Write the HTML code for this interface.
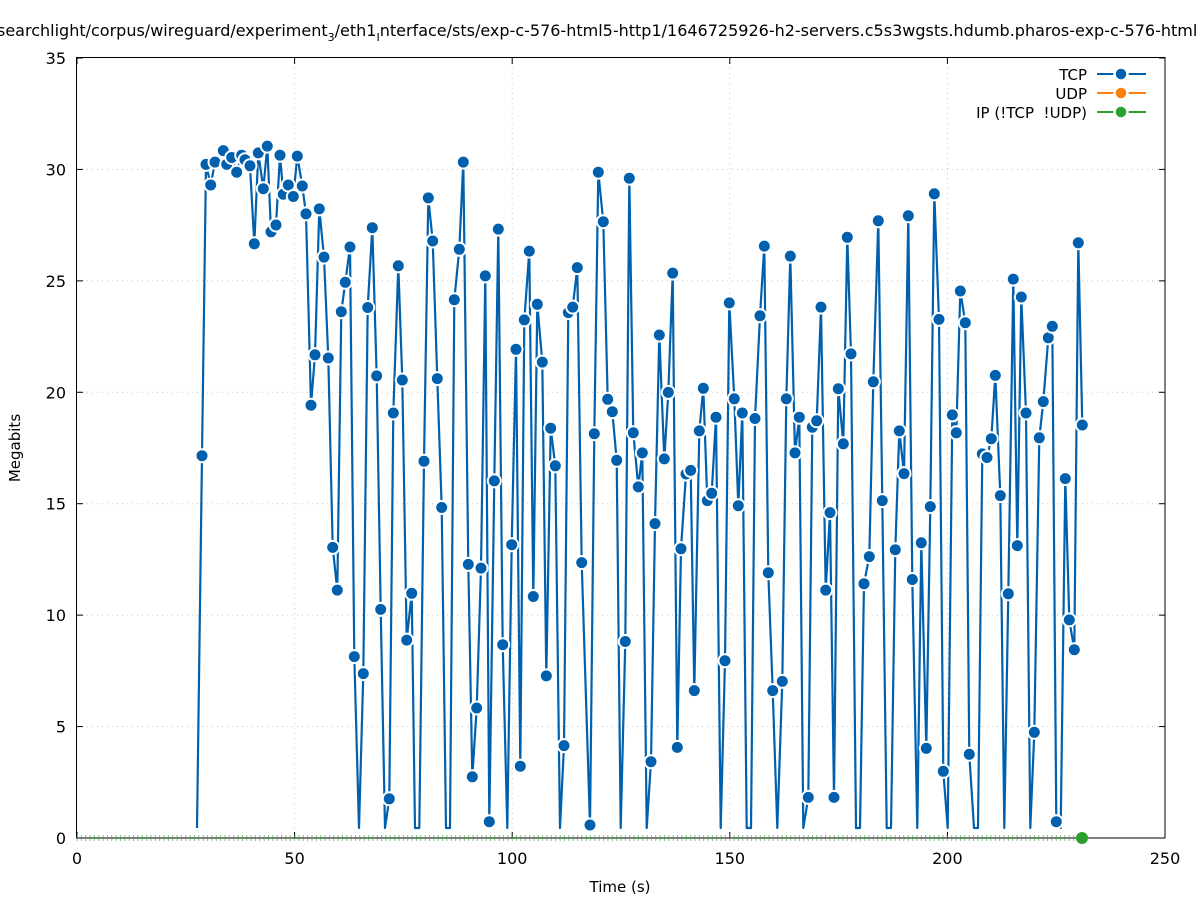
<!DOCTYPE html>
<html><head><meta charset="utf-8"><style>
html,body{margin:0;padding:0;background:#fff;}
svg{display:block;font-family:"DejaVu Sans","Liberation Sans",sans-serif;}
</style></head><body>
<svg id="s" width="1197" height="900" viewBox="0 0 1197 900" xmlns="http://www.w3.org/2000/svg">
<rect width="1197" height="900" fill="#fff"/>
<text x="-3" y="36" font-size="16" fill="#000">searchlight/corpus/wireguard/experiment<tspan font-size="11" dy="5">3</tspan><tspan dy="-5">/eth1</tspan><tspan font-size="11" dy="5">I</tspan><tspan dy="-5">nterface/sts/exp-c-576-html5-http1/1646725926-h2-servers.c5s3wgsts.hdumb.pharos-exp-c-576-html5-http1</tspan></text>
<g id="grid" stroke="#c8c8c8" stroke-width="1" stroke-dasharray="1,4"></g>
<g id="ticks" stroke="#000" stroke-width="1"></g>
<g id="lab" font-size="16" fill="#000"></g>
<rect x="76.5" y="57.5" width="1088.5" height="780.5" fill="none" stroke="#000" stroke-width="1"/>
<g id="green" stroke="#2ca02c" stroke-opacity="0.6" stroke-width="1"></g>
<polyline id="line" fill="none" stroke="#0060ad" stroke-width="2.2" stroke-linejoin="round"/>
<g id="pts"></g>
<circle cx="1082" cy="838" r="6" fill="#2ca02c"/>
<text x="20" y="448" font-size="15" text-anchor="middle" transform="rotate(-90 20 448)">Megabits</text>
<text x="620" y="892" font-size="15" text-anchor="middle">Time (s)</text>
<g font-size="15" text-anchor="end">
<text x="1087" y="80">TCP</text>
<text x="1087" y="99">UDP</text>
<text x="1087" y="118">IP (!TCP&#160; !UDP)</text>
</g>
<g stroke-width="2">
<line x1="1097" y1="74" x2="1146" y2="74" stroke="#0060ad"/><circle cx="1121" cy="74" r="6.5" fill="#0060ad" stroke="#fff" stroke-width="2.5"/>
<line x1="1097" y1="93" x2="1146" y2="93" stroke="#ff7f0e"/><circle cx="1121" cy="93" r="6.5" fill="#ff7f0e" stroke="#fff" stroke-width="2.5"/>
<line x1="1097" y1="112" x2="1146" y2="112" stroke="#2ca02c"/><circle cx="1121" cy="112" r="6.5" fill="#2ca02c" stroke="#fff" stroke-width="2.5"/>
</g>
</svg>
<script>
var NS="http://www.w3.org/2000/svg";
function el(p,t,a){var e=document.createElementNS(NS,t);for(var k in a)e.setAttribute(k,a[k]);p.appendChild(e);return e;}
var X=function(v){return 77+v*4.352}, Y=function(v){return 838-v*22.286};
var g=document.getElementById('grid'),tk=document.getElementById('ticks'),lb=document.getElementById('lab');
for(var v=0;v<=35;v+=5){var y=Y(v);if(v>0&&v<35)el(g,'line',{x1:77,x2:1165,y1:y,y2:y});
el(tk,'line',{x1:77,x2:83,y1:y,y2:y});el(tk,'line',{x1:1159,x2:1165,y1:y,y2:y});
var t=el(lb,'text',{x:66,y:y+6,'text-anchor':'end'});t.textContent=v;}
for(var v=0;v<=250;v+=50){var x=X(v);if(v>0&&v<250)el(g,'line',{x1:x,x2:x,y1:58,y2:838});
el(tk,'line',{x1:x,x2:x,y1:838,y2:832});el(tk,'line',{x1:x,x2:x,y1:58,y2:64});
var t=el(lb,'text',{x:x,y:864,'text-anchor':'middle'});t.textContent=v;}
var gr=document.getElementById('green');
for(var x=77;x<=1082;x+=4.352)el(gr,'line',{x1:x,x2:x,y1:835,y2:841});
var Z=1540;
var segs=[[190,[[36,710],[48,75],[62,120],[75,70],[100,45],[110,75],[125,60],[140,92],[155,55],[165,65],[180,78],[193,248],[205,50],[220,128],[232,35],[243,222],[258,207],[270,55],[280,140],[295,120],[310,145],[322,57],[337,122],[348,183],[363,600],[375,490],[388,172],[402,277],[415,497],[428,910],[442,1003],[454,396],[466,332],[480,255],[493,1148],[507,Z],[520,1185],[533,387],[547,213],[560,536],[572,1045],[585,Z],[598,1458],[610,617],[625,296],[637,545],[650,1112],[665,1010]]],
[410,[[15,Z],[28,Z],[42,722],[55,148],[68,242],[82,542],[95,823],[108,Z],[120,Z],[133,370],[148,260],[160,70],[175,947],[187,1410],[200,1260],[213,955],[226,318],[238,1508],[253,765],[265,216],[278,1122],[292,Z],[305,904],[318,478],[331,1387],[343,414],[358,264],[370,1017],[382,380],[397,506],[409,1190],[422,650],[436,732],[450,Z],[462,1342],[475,398],[488,386],[502,300],[515,943],[540,1515],[553,662],[565,92],[580,200],[593,587],[607,614],[620,720],[632,Z],[646,1115],[658,105]]],
[630,[[10,660],[25,778],[37,704],[50,Z],[63,1377],[75,858],[88,447],[103,717],[115,572],[128,312],[142,1346],[153,913],[168,750],[182,742],[193,1222],[208,656],[220,563],[232,808],[245,792],[258,626],[272,Z],[285,1157],[298,377],[313,586],[325,819],[337,617],[350,Z],[363,Z],[375,629],[390,405],[403,253],[415,965],[428,1222],[442,Z],[457,1202],[469,586],[481,275],[495,704],[508,626],[520,Z],[535,1455],[547,648],[560,634],[573,386],[587,1003],[600,834],[612,1455],[625,564],[640,684],[652,234],[663,488]]],
[850,[[18,Z],[30,Z],[42,989],[58,930],[70,549],[85,198],[97,808],[110,Z],[123,Z],[136,915],[148,656],[162,749],[175,187],[187,980],[202,Z],[214,900],[229,1348],[241,821],[253,139],[267,413],[280,1398],[293,Z],[307,621],[319,660],[331,351],[346,420],[358,1361],[372,Z],[384,Z],[397,706],[411,714],[424,673],[436,535],[451,797],[463,Z],[475,1011],[490,325],[502,906],[514,364],[528,617],[541,Z],[553,1313],[568,671],[580,592],[595,453],[607,428],[619,1508],[632,Z],[646,760],[658,1068],[673,1133],[685,246],[697,643]]]];
var pts=[[197,828,1]];
segs.forEach(function(s){s[1].forEach(function(p){var x=s[0]+p[0]/3;if(p[1]==Z)pts.push([x,828,1]);else pts.push([x,130+p[1]/2.18,0]);});});
document.getElementById('line').setAttribute('points',pts.map(function(p){return p[0].toFixed(1)+','+p[1].toFixed(1)}).join(' '));
var pg=document.getElementById('pts');
pts.forEach(function(p){if(!p[2])el(pg,'circle',{cx:p[0].toFixed(1),cy:p[1].toFixed(1),r:6.5,fill:'#0060ad',stroke:'#fff','stroke-width':2});});
</script>
</body></html>
